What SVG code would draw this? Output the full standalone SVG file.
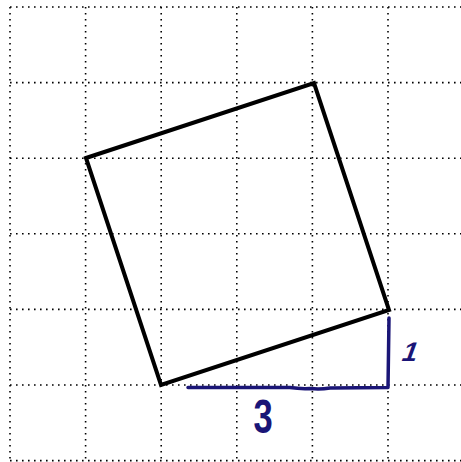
<svg xmlns="http://www.w3.org/2000/svg" width="461" height="462" viewBox="0 0 461 462">
<style>
.grid{stroke:#000;stroke-width:1.6;stroke-dasharray:1.6 4.4;fill:none}
.sq{stroke:#000;stroke-width:4;fill:none;stroke-linejoin:miter}
.blue{stroke:#1a1577;stroke-width:3.5;fill:none;stroke-linecap:round;stroke-linejoin:round}
.lbl{fill:#1a1577;font-family:"Liberation Sans","DejaVu Sans",sans-serif}
</style>
<rect width="461" height="462" fill="#fff"/>
<g id="grid">
<path class="grid" d="M10 7V462M85.6 7V462M161.2 7V462M236.8 7V462M312.4 7V462M388 7V462"/>
<path class="grid" d="M10 7H461M10 82.6H461M10 158.2H461M10 233.8H461M10 309.4H461M10 385H461M10 460.6H461"/>
</g>
<g id="square">
<polygon class="sq" points="86,158 314,83 389,310 161,385"/>
</g>
<g id="connectors">
<path class="blue" d="M188 387.5 L290 387.5 Q300 389 310 388.5 Q320 389.5 330 388 L388 387.5 L389 318"/>
</g>
<g id="label-3">
<text class="lbl" x="263" y="433" font-size="48" font-weight="bold" text-anchor="middle" transform="translate(263 0) scale(0.72 1) translate(-263 0)">3</text>
</g>
<g id="label-1">
<text class="lbl" x="408" y="361" font-size="27" font-weight="bold" text-anchor="middle" transform="skewX(-20) translate(131 0)">1</text>
</g>
</svg>
